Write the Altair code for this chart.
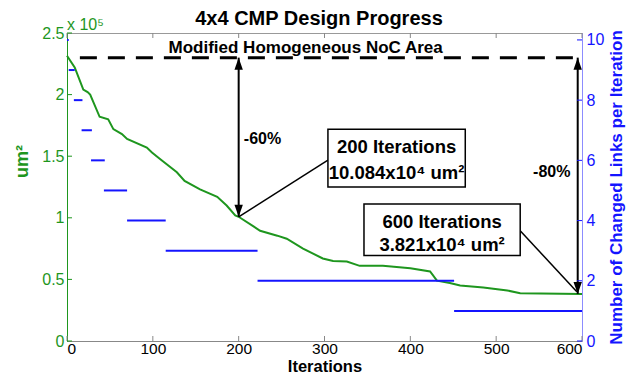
import altair as alt
import pandas as pd

# ---------------- data ----------------
iterations = [0, 9, 19, 24, 27, 38, 48, 54, 64, 70, 93, 99, 108, 128, 137, 155, 175, 186,
              196, 200, 225, 245, 256, 275, 298, 310, 326, 341, 368, 400, 423, 431, 446,
              458, 485, 513, 528, 600]
area_e5 = [2.315, 2.22, 2.04, 2.02, 2.00, 1.82, 1.80, 1.72, 1.68, 1.64, 1.57, 1.53, 1.48,
           1.37, 1.30, 1.23, 1.17, 1.10, 1.02, 1.0084, 0.895, 0.855, 0.83, 0.75, 0.67, 0.65,
           0.645, 0.61, 0.61, 0.59, 0.565, 0.49, 0.47, 0.45, 0.435, 0.41, 0.387, 0.3821]

seg_start = [0, 2, 8, 17, 28, 43, 70, 115, 222, 451]
seg_end = [2, 9, 18, 29, 44, 70, 115, 222, 451, 600]
changed_links = [10, 9, 8, 7, 6, 5, 4, 3, 2, 1]

x_ticks = [0, 100, 200, 300, 400, 500, 600]
left_ticks = [0, 0.5, 1, 1.5, 2, 2.5]
right_ticks = [0, 2, 4, 6, 8, 10]

noc_area = 2.30
noc_label = "Modified Homogeneous NoC Area"

arrow_x = [200, 595]
arrow_bottom = [1.0084, 0.3821]
pct_labels = ["-60%", "-80%"]
pct_x = [206, 543]
pct_y = [1.64, 1.37]

box_x1 = [304, 346]
box_x2 = [464, 528]
box_y1 = [1.25, 0.694]
box_y2 = [1.718, 1.113]
box_line1 = ["200 Iterations", "600 Iterations"]
box_line2 = ["10.084x10\u2074 um\u00b2", "3.821x10\u2074 um\u00b2"]
box_cx = [384, 437]
box_ly1 = [1.575, 0.965]
box_ly2 = [1.36, 0.78]

conn_x1 = [304, 528]
conn_y1 = [1.468, 0.895]
conn_x2 = [200, 594]
conn_y2 = [1.0084, 0.40]

# ---------------- styling ----------------
GREEN = "#1e961e"
BLUE = "#1414ff"
FONT = "Liberation Sans"
W, H = 515, 308

xs = alt.Scale(domain=[0, 600], nice=False, zero=False)
ys = alt.Scale(domain=[0, 2.5], nice=False)
y2s = alt.Scale(domain=[0, 10.23], nice=False)

curve_df = pd.DataFrame({"it": iterations, "area": area_e5})
seg_df = pd.DataFrame({"s": seg_start, "e": seg_end, "n": changed_links})
arrow_df = pd.DataFrame({"x": arrow_x, "top": [noc_area] * 2, "bot": arrow_bottom})
pct_df = pd.DataFrame({"x": pct_x, "y": pct_y, "t": pct_labels})
box_df = pd.DataFrame({"x1": box_x1, "x2": box_x2, "y1": box_y1, "y2": box_y2,
                       "cx": box_cx, "l1": box_line1, "l2": box_line2,
                       "ly1": box_ly1, "ly2": box_ly2})
conn_df = pd.DataFrame({"x1": conn_x1, "y1": conn_y1, "x2": conn_x2, "y2": conn_y2})
noc_df = pd.DataFrame({"x1": [15], "x2": [600], "y": [noc_area], "lx": [278], "ly": [2.335],
                       "t": [noc_label]})
xt_df = pd.DataFrame({"v": x_ticks})
lt_df = pd.DataFrame({"v": left_ticks})
rt_df = pd.DataFrame({"v": right_ticks})

X_AX = alt.Axis(values=x_ticks, title="Iterations", ticks=False, labelPadding=0,
                labelFontSize=15.5, labelFont=FONT, labelColor="black",
                titleFont=FONT, titleFontSize=16.5, titleFontWeight="bold", titleColor="black",
                titleY=30.5, titleBaseline="alphabetic", domainColor="#888888", grid=False)
Y_AX = alt.Axis(values=left_ticks, format="~g", title="um\u00b2", ticks=False, labelPadding=3,
                labelFontSize=16, labelFont=FONT, labelColor=GREEN,
                titleFont=FONT, titleFontSize=18, titleFontWeight="bold", titleColor=GREEN,
                titlePadding=10, domainColor=GREEN, grid=False, titleY=128)
Y2_AX = alt.Axis(values=right_ticks, orient="right", title="Number of Changed Links per Iteration",
                 ticks=False, labelPadding=4, labelFontSize=16, labelFont=FONT, labelColor=BLUE,
                 titleFont=FONT, titleFontSize=17, titleFontWeight="bold", titleColor=BLUE,
                 titlePadding=22, titleAngle=270, domainColor="#8c8cff", grid=False)


def X(field):
    return alt.X(field, scale=xs, axis=X_AX, title="Iterations")


def Y(field):
    return alt.Y(field, scale=ys, axis=Y_AX, title="um\u00b2")


curve = alt.Chart(curve_df).mark_line(color=GREEN, strokeWidth=2).encode(
    x=X("it:Q"), y=Y("area:Q"))

noc_line = alt.Chart(noc_df).mark_rule(color="black", strokeWidth=3, strokeDash=[17, 11]).encode(
    x=X("x1:Q"), x2="x2:Q", y=Y("y:Q"))
noc_text = alt.Chart(noc_df).mark_text(font=FONT, fontSize=17, fontWeight="bold",
                                       baseline="alphabetic", color="black").encode(
    x=X("lx:Q"), y=Y("ly:Q"), text="t:N")

arrow_lines = alt.Chart(arrow_df).mark_rule(color="black", strokeWidth=2).encode(
    x=X("x:Q"), y=Y("top:Q"), y2="bot:Q")
UP = "M0,0L-0.7,2L0.7,2Z"
DOWN = "M0,0L-0.7,-2L0.7,-2Z"
head_up = alt.Chart(arrow_df).mark_point(shape=UP, filled=True, size=144, color="black",
                                         opacity=1).encode(x=X("x:Q"), y=Y("top:Q"))
head_down = alt.Chart(arrow_df).mark_point(shape=DOWN, filled=True, size=144, color="black",
                                           opacity=1).encode(x=X("x:Q"), y=Y("bot:Q"))

pct = alt.Chart(pct_df).mark_text(font=FONT, fontSize=16, fontWeight="bold", align="left",
                                  color="black").encode(x=X("x:Q"), y=Y("y:Q"), text="t:N")

conn = alt.Chart(conn_df).mark_rule(color="black", strokeWidth=1.5).encode(
    x=X("x1:Q"), x2="x2:Q", y=Y("y1:Q"), y2="y2:Q")

boxes = alt.Chart(box_df).mark_rect(fill="white", stroke="black", strokeWidth=1.5).encode(
    x=X("x1:Q"), x2="x2:Q", y=Y("y1:Q"), y2="y2:Q")
bt1 = alt.Chart(box_df).mark_text(font=FONT, fontSize=18.5, fontWeight="bold", color="black").encode(
    x=X("cx:Q"), y=Y("ly1:Q"), text="l1:N")
bt2 = alt.Chart(box_df).mark_text(font=FONT, fontSize=18.5, fontWeight="bold", color="black").encode(
    x=X("cx:Q"), y=Y("ly2:Q"), text="l2:N")

xt_bot = alt.Chart(xt_df).mark_rule(color="#888888").encode(
    x=X("v:Q"), y=alt.value(H), y2=alt.value(H - 5))
xt_top = alt.Chart(xt_df).mark_rule(color="#888888").encode(
    x=X("v:Q"), y=alt.value(0), y2=alt.value(5))
lt = alt.Chart(lt_df).mark_rule(color=GREEN).encode(
    y=Y("v:Q"), x=alt.value(0), x2=alt.value(5))

exp_text = alt.Chart(pd.DataFrame({"t": ["x 10\u2075"]})).mark_text(
    font=FONT, fontSize=16, color=GREEN, align="left", baseline="alphabetic").encode(
    x=alt.value(0), y=alt.value(-3), text="t:N")
title_text = alt.Chart(pd.DataFrame({"t": ["4x4 CMP Design Progress"]})).mark_text(
    font=FONT, fontSize=20, fontWeight="bold", color="black", align="center",
    baseline="alphabetic").encode(x=alt.value(252), y=alt.value(-8), text="t:N")

left = alt.layer(curve, noc_line, noc_text, arrow_lines, conn, head_up, head_down, pct,
                 boxes, bt1, bt2, xt_bot, xt_top, lt, exp_text, title_text)


def Y2(field):
    return alt.Y(field, scale=y2s, axis=Y2_AX, title="Number of Changed Links per Iteration")


segs = alt.Chart(seg_df).mark_rule(color=BLUE, strokeWidth=2).encode(
    x=X("s:Q"), x2="e:Q", y=Y2("n:Q"))
rt = alt.Chart(rt_df).mark_rule(color=BLUE).encode(
    y=Y2("v:Q"), x=alt.value(W), x2=alt.value(W - 5))

right = alt.layer(segs, rt)

chart = alt.layer(left, right).resolve_scale(y="independent").properties(
    width=W, height=H,
    autosize=alt.AutoSizeParams(type="none"),
    padding={"left": 59, "top": 25, "right": 46, "bottom": 33},
).configure_view(stroke="#999999", strokeWidth=1)

chart.save("out.html", embed_options={"renderer": "svg", "actions": False})
